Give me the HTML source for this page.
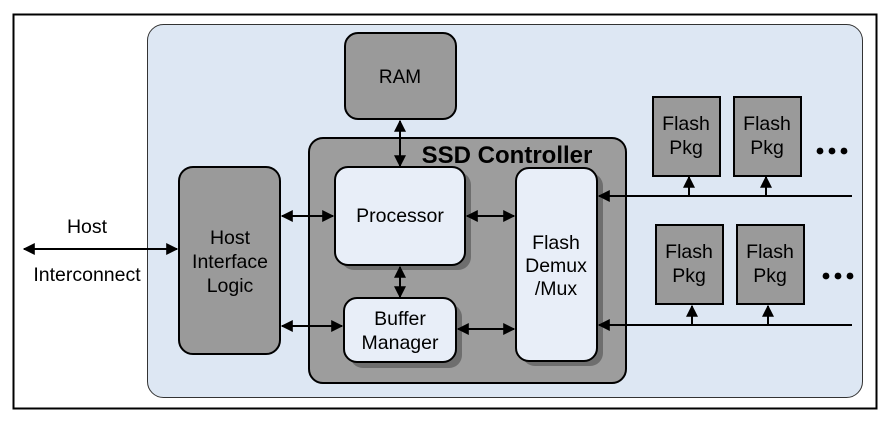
<!DOCTYPE html>
<html><head><meta charset="utf-8"><style>body{margin:0;background:#fff}svg{display:block}</style></head><body>
<svg width="892" height="428" viewBox="0 0 892 428" xmlns="http://www.w3.org/2000/svg" font-family="Liberation Sans, Arial, sans-serif">
<defs>
<marker id="a" viewBox="0 0 10 10" refX="9" refY="5" markerWidth="6" markerHeight="6" orient="auto-start-reverse"><path d="M0,0 L10,5 L0,10 z" fill="#000"/></marker>
</defs>
<rect x="13.5" y="14.5" width="863" height="394" fill="#fff" stroke="#000" stroke-width="2"/>
<rect x="147.5" y="24.5" width="715" height="373" rx="16" fill="#dde7f3" stroke="#333" stroke-width="1"/>
<rect x="345" y="33" width="111" height="86" rx="13" fill="#9a9a9a" stroke="#000" stroke-width="2"/>
<text x="400" y="83" font-size="19" text-anchor="middle">RAM</text>
<rect x="309" y="138" width="317" height="245" rx="14" fill="#9d9d9d" stroke="#000" stroke-width="2"/>
<text x="507" y="163" font-size="24" font-weight="bold" text-anchor="middle">SSD Controller</text>
<rect x="341" y="172" width="130" height="98" rx="13" fill="#6e6e6e"/>
<rect x="350" y="304" width="112" height="64" rx="13" fill="#6e6e6e"/>
<rect x="522" y="173" width="81" height="193" rx="13" fill="#6e6e6e"/>
<rect x="335" y="167" width="130" height="98" rx="13" fill="#e8eef8" stroke="#000" stroke-width="2"/>
<text x="400" y="222" font-size="19.5" text-anchor="middle">Processor</text>
<rect x="344" y="298" width="112" height="64" rx="13" fill="#e8eef8" stroke="#000" stroke-width="2"/>
<text x="400" y="325" font-size="19.5" text-anchor="middle">Buffer</text>
<text x="400" y="349" font-size="19.5" text-anchor="middle">Manager</text>
<rect x="516" y="168" width="81" height="193" rx="13" fill="#e8eef8" stroke="#000" stroke-width="2"/>
<text x="556" y="249" font-size="19.5" text-anchor="middle">Flash</text>
<text x="556" y="272" font-size="19.5" text-anchor="middle">Demux</text>
<text x="556" y="295" font-size="19.5" text-anchor="middle">/Mux</text>
<rect x="179" y="167" width="101" height="187" rx="14" fill="#9a9a9a" stroke="#000" stroke-width="2"/>
<text x="230" y="244" font-size="19.5" text-anchor="middle">Host</text>
<text x="230" y="268" font-size="19.5" text-anchor="middle">Interface</text>
<text x="230" y="292" font-size="19.5" text-anchor="middle">Logic</text>
<text x="87" y="233" font-size="19.5" text-anchor="middle">Host</text>
<text x="87" y="281" font-size="19.5" text-anchor="middle">Interconnect</text>
<g stroke="#000" stroke-width="2" fill="none" marker-start="url(#a)" marker-end="url(#a)">
<line x1="24" y1="249" x2="177" y2="249"/>
<line x1="400" y1="121" x2="400" y2="166"/>
<line x1="282" y1="216" x2="333" y2="216"/>
<line x1="282" y1="326" x2="342" y2="326"/>
<line x1="400" y1="267" x2="400" y2="297"/>
<line x1="467" y1="216" x2="514" y2="216"/>
<line x1="458" y1="329" x2="514" y2="329"/>
</g>
<g stroke="#000" stroke-width="2" fill="none" marker-end="url(#a)">
<line x1="852" y1="196" x2="599" y2="196"/>
<line x1="852" y1="325" x2="599" y2="325"/>
<line x1="689" y1="196" x2="689" y2="177"/>
<line x1="766" y1="196" x2="766" y2="177"/>
<line x1="692" y1="325" x2="692" y2="306"/>
<line x1="768" y1="325" x2="768" y2="306"/>
</g>
<g fill="#9a9a9a" stroke="#000" stroke-width="2">
<rect x="653" y="97" width="67" height="79"/>
<rect x="734" y="97" width="67" height="79"/>
<rect x="656" y="225" width="67" height="79"/>
<rect x="737" y="225" width="67" height="79"/>
</g>
<g font-size="19.5" text-anchor="middle">
<text x="686" y="130">Flash</text><text x="686" y="154">Pkg</text>
<text x="767" y="130">Flash</text><text x="767" y="154">Pkg</text>
<text x="689" y="258">Flash</text><text x="689" y="282">Pkg</text>
<text x="770" y="258">Flash</text><text x="770" y="282">Pkg</text>
</g>
<g fill="#000">
<circle cx="820" cy="151" r="3.4"/><circle cx="832" cy="151" r="3.4"/><circle cx="844" cy="151" r="3.4"/>
<circle cx="826" cy="276" r="3.4"/><circle cx="838" cy="276" r="3.4"/><circle cx="850" cy="276" r="3.4"/>
</g>
</svg>
</body></html>
